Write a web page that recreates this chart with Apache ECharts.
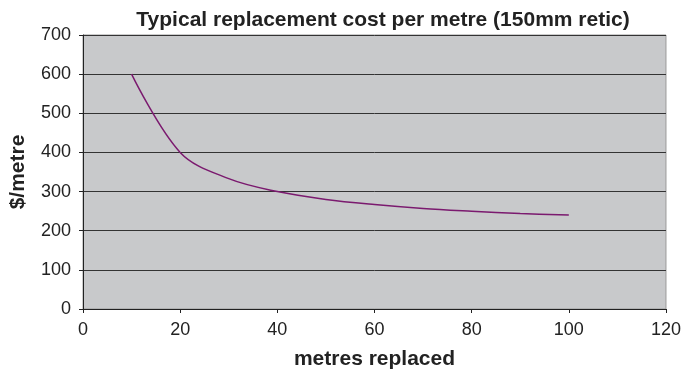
<!DOCTYPE html>
<html><head><meta charset="utf-8">
<script src="https://cdn.jsdelivr.net/npm/echarts@6/dist/echarts.min.js"></script>
<style>html,body{margin:0;padding:0;background:#fff}#c{width:684px;height:375px}</style>
</head><body><div id="c"></div>
<script>
const metres = [10, 20, 30, 40, 50, 60, 70, 80, 90, 100];
const costPerMetre = [600, 400, 333, 300, 280, 267, 257, 250, 244, 240];
const xTicks = [0, 20, 40, 60, 80, 100, 120];
const yTicks = [0, 100, 200, 300, 400, 500, 600, 700];
const titleText = 'Typical replacement cost per metre (150mm retic)';
const xName = 'metres replaced';
const yName = '$/metre';

const font = 'Liberation Sans, Arial, sans-serif';
const chart = echarts.init(document.getElementById('c'), null, {renderer: 'canvas'});
chart.setOption({
  animation: false,
  backgroundColor: '#fff',
  title: {
    text: titleText, left: 378, top: 5, textAlign: 'center',
    textStyle: {fontFamily: font, fontSize: 21, fontWeight: 'bold', color: '#222'}
  },
  grid: {left: 81, right: 18, top: 35, bottom: 65, show: true, backgroundColor: '#c8c9cb', borderColor: '#999', borderWidth: 1},
  xAxis: {
    type: 'value', min: xTicks[0], max: xTicks[xTicks.length - 1], interval: 20,
    name: xName, nameLocation: 'middle', nameGap: 40,
    nameTextStyle: {fontFamily: font, fontSize: 21, fontWeight: 'bold', color: '#222'},
    axisLine: {show: true, lineStyle: {color: '#222', width: 1}},
    axisTick: {show: true, length: 4, lineStyle: {color: '#222'}},
    axisLabel: {fontFamily: font, fontSize: 18, color: '#222', margin: 12},
    splitLine: {show: false}
  },
  yAxis: {
    type: 'value', min: yTicks[0], max: yTicks[yTicks.length - 1], interval: 100,
    name: yName, nameLocation: 'middle', nameGap: 54, nameRotate: 90,
    nameTextStyle: {fontFamily: font, fontSize: 21, fontWeight: 'bold', color: '#222'},
    axisLine: {show: true, lineStyle: {color: '#222', width: 1}},
    axisTick: {show: true, length: 4, lineStyle: {color: '#222'}},
    axisLabel: {fontFamily: font, fontSize: 18, color: '#222', margin: 12},
    splitLine: {show: true, lineStyle: {color: '#333', width: 1}}
  },
  series: [{
    type: 'line',
    data: metres.map((m, i) => [m, costPerMetre[i]]),
    smooth: 0.35,
    showSymbol: false,
    lineStyle: {color: '#7b1a6f', width: 1.5}
  }]
});
</script></body></html>
